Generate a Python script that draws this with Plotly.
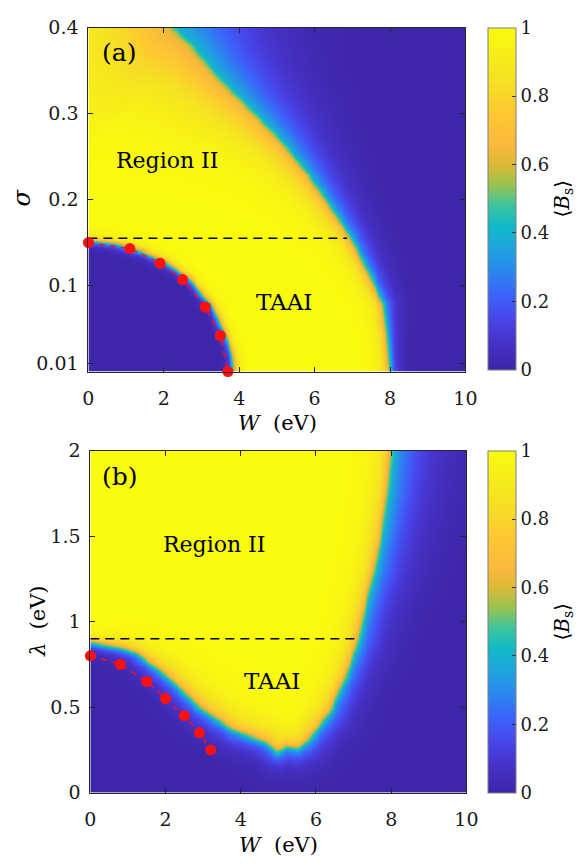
import numpy as np
import plotly.graph_objects as go

# ---------------- data ----------------
# panel (a): outer boundary of the yellow (TAAI / Region II) area, W (eV) vs sigma
a_outer_W = [8.0, 7.97, 7.9, 7.8, 7.4, 6.95, 6.4, 5.8, 5.1, 4.25, 3.4, 2.7, 2.2, 1.9]
a_outer_s = [-0.05, 0.0, 0.041, 0.078, 0.116, 0.155, 0.192, 0.23, 0.268, 0.306, 0.343, 0.38, 0.40, 0.45]
a_outer_win = [6, 6, 7, 8, 9, 10, 13, 16, 20, 26, 35, 50, 65, 65]
a_outer_wout = [6, 6, 7, 9, 11, 13, 16, 20, 26, 34, 45, 55, 60, 60]
# panel (a): inner (dark blue) region boundary
a_inner_W = [-0.5, 0.0, 0.7, 1.4, 2.1, 2.7, 3.0, 3.3, 3.45, 3.65, 3.8, 3.85, 3.85]
a_inner_s = [0.153, 0.153, 0.149, 0.14, 0.126, 0.107, 0.09, 0.075, 0.06, 0.04, 0.02, 0.0, -0.05]
a_inner_win = [4.0] * 13
a_inner_wout = [3.5] * 13
# panel (a): red markers and dashed line
a_dots_W = [0.0, 1.1, 1.9, 2.5, 3.1, 3.5, 3.7]
a_dots_s = [0.15, 0.143, 0.126, 0.107, 0.075, 0.042, 0.0]
a_dash_W = [0.0, 6.86]
a_dash_s = [0.155, 0.155]

# panel (b): boundary of the yellow area, W (eV) vs lambda (eV)
b_bnd_W = [-0.5, 0.0, 0.8, 1.2, 2.05, 2.9, 3.77, 4.63, 4.97, 5.2, 5.5, 5.75, 6.35, 6.78, 7.1, 7.37, 7.55, 7.72, 7.9, 8.0, 8.05]
b_bnd_l = [0.88, 0.88, 0.85, 0.82, 0.68, 0.50, 0.37, 0.30, 0.24, 0.27, 0.26, 0.30, 0.47, 0.68, 0.88, 1.15, 1.30, 1.49, 1.76, 2.0, 2.1]
b_bnd_win = [5, 5, 7, 8, 11, 13, 13, 13, 12, 12, 12, 12, 11, 10, 10, 10, 10, 10, 10, 10, 10]
b_bnd_wout = [5, 5, 7, 8, 10, 11, 11, 11, 11, 11, 12, 13, 14, 14, 16, 19, 21, 23, 26, 28, 28]
b_dots_W = [0.0, 0.8, 1.5, 2.0, 2.5, 2.9, 3.2]
b_dots_l = [0.80, 0.75, 0.65, 0.55, 0.45, 0.35, 0.25]
b_dash_W = [0.0, 7.05]
b_dash_l = [0.90, 0.90]

x_ticks = [0, 2, 4, 6, 8, 10]
a_yticks = [0.01, 0.1, 0.2, 0.3, 0.4]
a_yticktext = ["0.01", "0.1", "0.2", "0.3", "0.4"]
b_yticks = [0, 0.5, 1, 1.5, 2]
b_yticktext = ["0", "0.5", "1", "1.5", "2"]
cb_ticks = [0, 0.2, 0.4, 0.6, 0.8, 1]
cb_ticktext = ["0", "0.2", "0.4", "0.6", "0.8", "1"]

# ---------------- layout geometry ----------------
FW, FH = 586, 867
ax1_x = [85 / FW, 474 / FW]
ax1_y = [1 - 370 / FH, 1 - 17 / FH]
ax2_x = [87 / FW, 475 / FW]
ax2_y = [1 - 802 / FH, 1 - 451 / FH]

# parula-like colour map as seen in the colorbar
parula = [
    [0.00, "rgb(62,38,168)"], [0.08, "rgb(70,50,200)"], [0.15, "rgb(72,70,235)"],
    [0.22, "rgb(60,100,250)"], [0.30, "rgb(40,140,235)"], [0.36, "rgb(30,165,220)"],
    [0.42, "rgb(15,185,200)"], [0.48, "rgb(60,195,160)"], [0.54, "rgb(150,195,80)"],
    [0.60, "rgb(220,185,55)"], [0.66, "rgb(250,185,60)"], [0.75, "rgb(254,200,50)"],
    [0.85, "rgb(245,225,35)"], [1.00, "rgb(249,251,14)"],
]


def point_in_poly(px, py, vx, vy):
    res = np.zeros(px.shape, dtype=bool)
    n = len(vx)
    j = n - 1
    for i in range(n):
        yi, yj, xi, xj = vy[i], vy[j], vx[i], vx[j]
        cond = ((yi > py) != (yj > py))
        xint = (xj - xi) * (py - yi) / ((yj - yi) if yj != yi else 1e-12) + xi
        res ^= cond & (px < xint)
        j = i
    return res


def dist_to_polyline(px, py, vx, vy, win, wout):
    best = np.full(px.shape, np.inf)
    bwin = np.zeros(px.shape)
    bwout = np.zeros(px.shape)
    for i in range(len(vx) - 1):
        ax_, ay_ = vx[i], vy[i]
        bx_, by_ = vx[i + 1], vy[i + 1]
        dx, dy = bx_ - ax_, by_ - ay_
        L2 = dx * dx + dy * dy
        t = np.clip(((px - ax_) * dx + (py - ay_) * dy) / L2, 0, 1)
        d = np.hypot(px - (ax_ + t * dx), py - (ay_ + t * dy))
        m = d < best
        best = np.where(m, d, best)
        bwin = np.where(m, win[i] * (1 - t) + win[i + 1] * t, bwin)
        bwout = np.where(m, wout[i] * (1 - t) + wout[i + 1] * t, bwout)
    return best, bwin, bwout


def profile(d, win, wout):
    s = 1 / (1 + np.exp(-np.clip(d / 1.5, -50, 50)))
    inner = 1 - 0.4 * np.exp(-np.clip(d, 0, None) / win)
    outer = 0.42 * np.exp(np.clip(d, None, 0) / wout)
    return s * inner + (1 - s) * outer


def field(Wg, Yg, kx, ky, bx, by, win, wout, poly_x, poly_y, yellow_inside=True):
    px, py = Wg * kx, Yg * ky
    vx = np.array(bx) * kx
    vy = np.array(by) * ky
    d, w1, w2 = dist_to_polyline(px, py, vx, vy, win, wout)
    ins = point_in_poly(Wg, Yg, poly_x, poly_y)
    sgn = np.where(ins == yellow_inside, 1.0, -1.0)
    return profile(sgn * d, w1, w2)


# ---------------- panel (a) field ----------------
kx1 = (ax1_x[1] - ax1_x[0]) * FW / 10.0
ky1 = (ax1_y[1] - ax1_y[0]) * FH / 0.4
Wa = np.linspace(0, 10, 201)
Sa = np.linspace(0, 0.4, 161)
WG, SG = np.meshgrid(Wa, Sa)
poly_ox = a_outer_W + [-1.0, -1.0]
poly_oy = a_outer_s + [0.45, -0.05]
B_out = field(WG, SG, kx1, ky1, a_outer_W, a_outer_s, a_outer_win, a_outer_wout, poly_ox, poly_oy, True)
poly_ix = a_inner_W + [-0.5]
poly_iy = a_inner_s + [-0.05]
B_in = field(WG, SG, kx1, ky1, a_inner_W, a_inner_s, a_inner_win, a_inner_wout, poly_ix, poly_iy, False)
Za = B_out * B_in

# ---------------- panel (b) field ----------------
kx2 = (ax2_x[1] - ax2_x[0]) * FW / 10.0
ky2 = (ax2_y[1] - ax2_y[0]) * FH / 2.0
Wb = np.linspace(0, 10, 201)
Lb = np.linspace(0, 2, 161)
WG2, LG2 = np.meshgrid(Wb, Lb)
poly_bx = b_bnd_W + [-0.5]
poly_by = b_bnd_l + [2.1]
Zb = field(WG2, LG2, kx2, ky2, b_bnd_W, b_bnd_l, b_bnd_win, b_bnd_wout, poly_bx, poly_by, True)

SERIF = "DejaVu Serif"
TXT = "#1a1a1a"


def cbar(ycenter):
    return dict(
        x=497 / FW, xanchor="left", xpad=0, ypad=0,
        y=ycenter, yanchor="middle", len=351 / FH, lenmode="fraction",
        thickness=28, thicknessmode="pixels",
        outlinewidth=1, outlinecolor="#7f7f7f",
        tickvals=cb_ticks, ticktext=cb_ticktext, ticks="inside", ticklen=4,
        tickcolor="#262626", tickfont=dict(family=SERIF, size=18, color=TXT),
    )


fig = go.Figure()
fig.add_trace(go.Heatmap(x=Wa, y=Sa, z=Za, zmin=0, zmax=1, colorscale=parula,
                         zsmooth="best", colorbar=cbar(1 - (17 + 368) / 2 / FH),
                         xaxis="x", yaxis="y", hoverinfo="skip"))
fig.add_trace(go.Heatmap(x=Wb, y=Lb, z=Zb, zmin=0, zmax=1, colorscale=parula,
                         zsmooth="best", colorbar=cbar(1 - (451 + 802) / 2 / FH),
                         xaxis="x2", yaxis="y2", hoverinfo="skip"))

for xa, ya, dW, dY, pW, pY in [("x", "y", a_dash_W, a_dash_s, a_dots_W, a_dots_s),
                                ("x2", "y2", b_dash_W, b_dash_l, b_dots_W, b_dots_l)]:
    fig.add_trace(go.Scatter(x=dW, y=dY, mode="lines", xaxis=xa, yaxis=ya,
                             line=dict(color="black", width=1.6, dash="9px,6px"),
                             showlegend=False, hoverinfo="skip"))
    fig.add_trace(go.Scatter(x=pW, y=pY, mode="lines+markers", xaxis=xa, yaxis=ya,
                             line=dict(color="#ff1010", width=1.4, dash="6px,5px"),
                             marker=dict(color="#ff1010", size=11),
                             cliponaxis=False, showlegend=False, hoverinfo="skip"))

axis_common = dict(
    showline=True, linecolor="#262626", linewidth=1, mirror="ticks",
    ticks="inside", ticklen=5, tickcolor="#262626", showgrid=False, zeroline=False,
    tickfont=dict(family=SERIF, size=19, color=TXT),
)

fig.update_layout(
    width=FW, height=FH, margin=dict(l=0, r=0, t=0, b=0),
    paper_bgcolor="white", plot_bgcolor="white", showlegend=False,
    font=dict(family=SERIF, color=TXT),
    xaxis=dict(domain=ax1_x, anchor="y", range=[0, 10], tickvals=x_ticks,
               ticklabelstandoff=10, **axis_common),
    yaxis=dict(domain=ax1_y, anchor="x", range=[0, 0.4], tickvals=a_yticks,
               ticktext=a_yticktext, ticklabelstandoff=5, **axis_common),
    xaxis2=dict(domain=ax2_x, anchor="y2", range=[0, 10], tickvals=x_ticks,
                ticklabelstandoff=10, **axis_common),
    yaxis2=dict(domain=ax2_y, anchor="x2", range=[0, 2], tickvals=b_yticks,
                ticktext=b_yticktext, ticklabelstandoff=5, **axis_common),
)

ann = []


def txt(text, x, y, xref, yref, size, angle=0, xanchor="center"):
    ann.append(dict(text=text, x=x, y=y, xref=xref, yref=yref, showarrow=False,
                    textangle=angle, xanchor=xanchor, yanchor="middle",
                    font=dict(family=SERIF, size=size, color="black")))


# in-plot labels
txt("(a)", 0.82, 0.371, "x", "y", 25)
txt("Region II", 2.1, 0.245, "x", "y", 22)
txt("TAAI", 5.19, 0.081, "x", "y", 23)
txt("(b)", 0.8, 1.85, "x2", "y2", 25)
txt("Region II", 3.3, 1.45, "x2", "y2", 22)
txt("TAAI", 4.82, 0.65, "x2", "y2", 23)
# axis titles
txt("<i>W</i>  (eV)", 280 / FW, 1 - 423 / FH, "paper", "paper", 21)
txt("<i>W</i>  (eV)", 281 / FW, 1 - 856 / FH, "paper", "paper", 21)
txt("<i>σ</i>", 17 / FW, 1 - 192 / FH, "paper", "paper", 24, angle=-90)
txt("<i>λ</i>  (eV)", 33 / FW, 1 - 626 / FH, "paper", "paper", 21, angle=-90)
txt("⟨<i>B</i><sub>s</sub>⟩", 575 / FW, 1 - 192 / FH, "paper", "paper", 20, angle=-90)
txt("⟨<i>B</i><sub>s</sub>⟩", 575 / FW, 1 - 626 / FH, "paper", "paper", 20, angle=-90)
fig.update_layout(annotations=ann)

fig.write_html("out.html")
